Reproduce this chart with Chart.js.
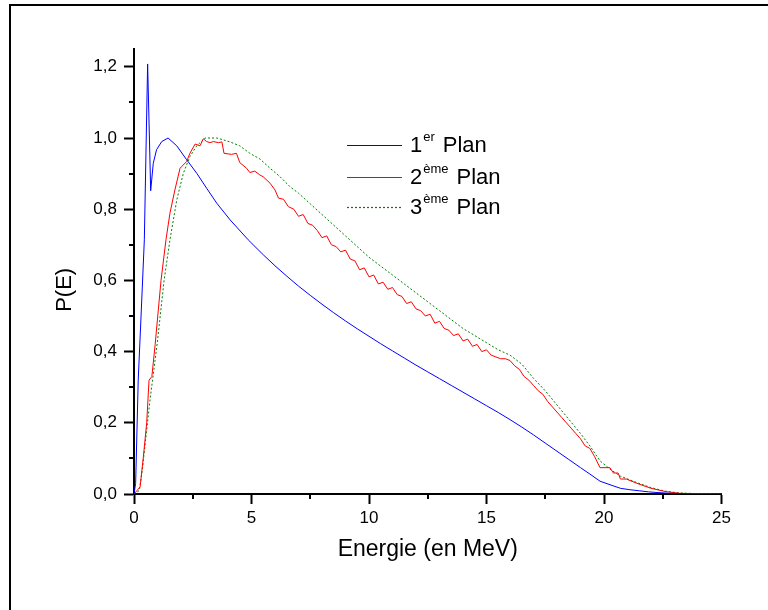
<!DOCTYPE html>
<html><head><meta charset="utf-8">
<script src="https://cdn.jsdelivr.net/npm/chart.js@4"></script>
<style>
html,body{margin:0;padding:0;background:#fff;}
#wrap{position:relative;width:768px;height:610px;overflow:hidden;background:#fff}
#frame{position:absolute;left:9px;top:4px;width:800px;height:700px;border-top:2px solid #000;border-left:2px solid #000;pointer-events:none}
canvas{position:absolute;left:0;top:0}
</style></head><body>
<div id="wrap"><canvas id="c" width="768" height="610"></canvas><div id="frame"></div></div>
<script>
// ---- data ----
const xTitle = 'Energie (en MeV)';
const yTitle = 'P(E)';
const seriesNames = ['1er Plan', '2ème Plan', '3ème Plan'];
const seriesNum = ['1', '2', '3'];
const seriesSup = ['er', 'ème', 'ème'];
const seriesWord = ['Plan', 'Plan', 'Plan'];
const xTicks = [0, 5, 10, 15, 20, 25];
const yTicks = [0, 0.2, 0.4, 0.6, 0.8, 1.0, 1.2];

const energy1 = [0, 0.07, 0.18, 0.30, 0.44, 0.58, 0.71, 0.82, 0.96, 1.18, 1.45, 1.82, 2.24, 2.67, 3.09, 3.52, 4.09, 4.86, 5.5, 6, 6.5, 7, 7.5, 8, 8.5, 9, 9.5, 10, 10.5, 11, 11.5, 12, 12.5, 13, 13.5, 14, 14.5, 15, 15.5, 16, 16.5, 17, 17.5, 18, 18.5, 19, 19.4, 19.83, 20.3, 20.7, 21.1, 21.5, 21.9, 22.3, 22.8, 23.5, 24, 25];
const plan1 = [0, 0.03, 0.32, 0.50, 0.714, 1.208, 0.852, 0.929, 0.967, 0.99, 1.0, 0.978, 0.939, 0.901, 0.859, 0.817, 0.77, 0.714, 0.672, 0.641, 0.612, 0.584, 0.558, 0.533, 0.509, 0.486, 0.464, 0.443, 0.422, 0.402, 0.382, 0.362, 0.343, 0.324, 0.305, 0.286, 0.267, 0.248, 0.229, 0.209, 0.188, 0.166, 0.143, 0.12, 0.097, 0.074, 0.056, 0.036, 0.025, 0.016, 0.012, 0.009, 0.006, 0.004, 0.002, 0.001, 0, 0];

const energy2 = [0, 0.26, 0.4, 0.54, 0.64, 0.76, 0.9, 1.15, 1.36, 1.53, 1.74, 1.96, 2.24, 2.38, 2.6, 2.81, 2.95, 3.09, 3.24, 3.38, 3.59, 3.74, 3.83, 4.15, 4.36, 4.5, 4.79, 4.93, 5.14, 5.36, 5.5, 5.79, 6.0, 6.15, 6.36, 6.57, 6.8, 7.0, 7.2, 7.4, 7.6, 7.8, 8.0, 8.2, 8.4, 8.6, 8.8, 9.0, 9.2, 9.4, 9.6, 9.8, 10.0, 10.2, 10.4, 10.6, 10.8, 11.0, 11.2, 11.4, 11.6, 11.8, 12.0, 12.2, 12.4, 12.6, 12.8, 13.0, 13.2, 13.4, 13.6, 13.8, 14.0, 14.2, 14.4, 14.6, 14.8, 15.0, 15.2, 15.4, 15.6, 15.8, 16.0, 16.2, 16.4, 16.6, 16.8, 17.0, 17.2, 17.4, 17.6, 17.8, 18.0, 18.2, 18.4, 18.6, 18.8, 19.0, 19.2, 19.4, 19.6, 19.83, 20.25, 20.4, 20.6, 20.7, 20.95, 21.4, 22.0, 22.6, 23.2, 24, 25];
const plan2 = [0, 0.02, 0.105, 0.2, 0.32, 0.33, 0.42, 0.6, 0.714, 0.789, 0.854, 0.915, 0.934, 0.957, 0.983, 0.978, 0.998, 0.99, 0.987, 0.99, 0.987, 0.989, 0.957, 0.954, 0.957, 0.931, 0.915, 0.903, 0.907, 0.896, 0.891, 0.873, 0.854, 0.831, 0.828, 0.807, 0.80, 0.78, 0.785, 0.76, 0.755, 0.74, 0.72, 0.725, 0.70, 0.695, 0.68, 0.685, 0.66, 0.655, 0.63, 0.635, 0.61, 0.615, 0.59, 0.595, 0.575, 0.58, 0.56, 0.555, 0.535, 0.54, 0.52, 0.515, 0.50, 0.505, 0.48, 0.485, 0.465, 0.46, 0.445, 0.45, 0.43, 0.435, 0.415, 0.42, 0.40, 0.405, 0.39, 0.385, 0.38, 0.38, 0.375, 0.36, 0.35, 0.33, 0.32, 0.305, 0.29, 0.28, 0.26, 0.245, 0.23, 0.215, 0.20, 0.185, 0.17, 0.155, 0.135, 0.128, 0.105, 0.074, 0.074, 0.059, 0.059, 0.042, 0.042, 0.03, 0.016, 0.007, 0.002, 0.0005, 0];

const energy3 = [0, 0.23, 0.37, 0.54, 0.68, 0.79, 1.0, 1.28, 1.53, 1.82, 2.1, 2.38, 2.67, 3.02, 3.52, 3.74, 4.08, 4.5, 4.93, 5.36, 5.79, 6.22, 6.64, 7, 7.5, 8, 8.5, 9, 9.5, 10, 10.5, 11, 11.5, 12, 12.5, 13, 13.5, 14, 14.5, 15, 15.5, 16, 16.5, 17, 17.5, 18, 18.5, 19, 19.4, 19.83, 20.25, 20.7, 21.4, 22, 22.6, 23.2, 24, 25];
const plan3 = [0, 0.01, 0.077, 0.18, 0.264, 0.32, 0.43, 0.6, 0.714, 0.826, 0.901, 0.948, 0.978, 1.0, 1.0, 0.996, 0.989, 0.978, 0.957, 0.941, 0.915, 0.891, 0.863, 0.845, 0.815, 0.785, 0.755, 0.725, 0.695, 0.665, 0.64, 0.615, 0.59, 0.565, 0.54, 0.515, 0.49, 0.465, 0.445, 0.425, 0.405, 0.39, 0.365, 0.325, 0.29, 0.25, 0.21, 0.17, 0.135, 0.093, 0.07, 0.05, 0.032, 0.018, 0.008, 0.003, 0.001, 0];

const colors = ['#0000ff', '#ff0000', '#008000'];
const dashes = [[], [], [2, 2]];

// ---- build ----
const FONT = "'Liberation Sans', Arial, sans-serif";
const pts = (xs, ys) => xs.map((x, i) => ({x: x, y: ys[i]}));
const datasets = [pts(energy1, plan1), pts(energy2, plan2), pts(energy3, plan3)].map((d, i) => ({
  label: seriesNames[i], data: d, borderColor: colors[i], backgroundColor: colors[i],
  borderWidth: 1, borderDash: dashes[i], pointRadius: 0, tension: 0, fill: false
}));

const minorTicks = {
  id: 'minorTicks',
  afterDraw(chart) {
    const {ctx, scales: {x, y}} = chart;
    ctx.save();
    ctx.strokeStyle = '#000'; ctx.lineWidth = 2;
    for (let i = 0; i < xTicks.length - 1; i++) {
      const v = (xTicks[i] + xTicks[i + 1]) / 2;
      const px = Math.round(x.getPixelForValue(v));
      ctx.beginPath(); ctx.moveTo(px, y.bottom); ctx.lineTo(px, y.bottom + 5); ctx.stroke();
    }
    for (let i = 0; i < yTicks.length - 1; i++) {
      const v = (yTicks[i] + yTicks[i + 1]) / 2;
      const py = Math.round(y.getPixelForValue(v));
      ctx.beginPath(); ctx.moveTo(x.left - 5, py); ctx.lineTo(x.left, py); ctx.stroke();
    }
    ctx.restore();
  }
};

const legendPlugin = {
  id: 'supLegend',
  afterDatasetsDraw(chart) {
    const ctx = chart.ctx;
    const rowsY = [145, 177, 207];
    ctx.save();
    chart.data.datasets.forEach((ds, i) => {
      const yy = rowsY[i];
      ctx.strokeStyle = ds.borderColor; ctx.lineWidth = 1.2;
      ctx.setLineDash(ds.borderDash || []);
      ctx.beginPath(); ctx.moveTo(347, yy + 0.5); ctx.lineTo(402, yy + 0.5); ctx.stroke();
      ctx.setLineDash([]);
      ctx.fillStyle = '#000'; ctx.textBaseline = 'alphabetic'; ctx.textAlign = 'left';
      let tx = 410;
      const base = yy + 7;
      ctx.font = '22px ' + FONT;
      ctx.fillText(seriesNum[i], tx, base);
      tx += ctx.measureText(seriesNum[i]).width + 1;
      ctx.font = '13px ' + FONT;
      ctx.fillText(seriesSup[i], tx, base - 11);
      tx += ctx.measureText(seriesSup[i]).width + 8;
      ctx.font = '22px ' + FONT;
      ctx.fillText(seriesWord[i], tx, base);
    });
    ctx.restore();
  }
};

new Chart(document.getElementById('c'), {
  type: 'line',
  data: {datasets: datasets},
  options: {
    responsive: false, animation: false, devicePixelRatio: 1,
    layout: {padding: {top: 49, right: 46.5, left: 0, bottom: 0}},
    plugins: {legend: {display: false}, tooltip: {enabled: false}},
    scales: {
      x: {
        type: 'linear', min: 0, max: 25,
        afterBuildTicks: s => { s.ticks = xTicks.map(v => ({value: v})); },
        ticks: {color: '#000', font: {family: FONT, size: 17}, padding: 4, maxRotation: 0,
                callback: v => String(v)},
        grid: {drawOnChartArea: false, drawTicks: true, tickLength: 10, tickColor: '#000', tickWidth: 2},
        border: {color: '#000', width: 2},
        title: {display: true, text: xTitle, color: '#000', font: {family: FONT, size: 23}, padding: {top: 0, bottom: 47}},
        afterFit: s => { s.height = 116; s.paddingLeft = 0; s.paddingRight = 0; }
      },
      y: {
        type: 'linear', min: 0, max: 1.25,
        afterBuildTicks: s => { s.ticks = yTicks.map(v => ({value: v})); },
        ticks: {color: '#000', font: {family: FONT, size: 17}, padding: 7,
                callback: v => v.toFixed(1).replace('.', ',')},
        grid: {drawOnChartArea: false, drawTicks: true, tickLength: 10, tickColor: '#000', tickWidth: 2},
        border: {color: '#000', width: 2},
        title: {display: true, text: yTitle + '      ', color: '#000', font: {family: FONT, size: 22}, padding: {top: 52, bottom: 0}},
        afterFit: s => { s.width = 134; s.paddingTop = 0; s.paddingBottom = 0; }
      }
    }
  },
  plugins: [minorTicks, legendPlugin]
});
</script>
</body></html>
